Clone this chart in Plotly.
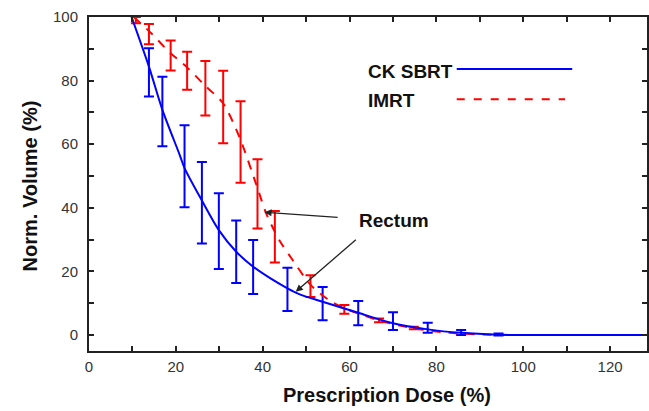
import plotly.graph_objects as go

# CK SBRT mean DVH curve
ck_dose = [9.8, 13.8, 16.9, 20.9, 22.0, 26.0, 29.9, 33.9, 37.8, 41.8, 45.7, 48.4, 53.8, 62.0, 70.0, 78.0, 85.7, 94.3, 100, 128.5]
ck_vol = [100, 84.4, 70.8, 56.6, 52.5, 42.3, 33.0, 26.2, 21.5, 17.8, 14.7, 12.9, 10.5, 7.0, 3.7, 1.8, 0.7, 0.1, 0, 0]

# CK SBRT error bars
ck_bar_dose = [13.8, 16.9, 22.0, 26.0, 29.9, 33.9, 37.8, 45.7, 53.8, 62.0, 70.0, 78.0, 85.7, 94.3]
ck_bar_mean = [82.6, 70.3, 53.1, 41.6, 32.7, 26.2, 21.4, 14.4, 9.9, 6.9, 4.4, 2.3, 0.8, 0.2]
ck_bar_err = [7.6, 10.9, 12.9, 12.8, 11.9, 9.8, 8.5, 6.8, 5.2, 3.8, 2.8, 1.6, 0.8, 0.3]

# IMRT mean DVH curve
imrt_dose = [10.3, 14.4, 18.4, 22.4, 26.6, 30.8, 34.6, 38.6, 40.8, 43.8, 46.9, 51.1, 55.3, 58.7, 63.7, 67.0, 75.0, 83.0, 91.0, 100]
imrt_vol = [100, 94.8, 89.1, 84.4, 78.6, 73.0, 62.4, 47.0, 38.3, 29.9, 23.6, 15.7, 11.0, 8.5, 6.0, 4.5, 2.1, 0.7, 0.2, 0]

# IMRT error bars
imrt_bar_dose = [10.8, 13.8, 18.8, 22.6, 26.8, 30.9, 34.9, 38.8, 42.8, 51.0, 58.8, 66.8, 74.8]
imrt_bar_mean = [99.0, 94.6, 87.9, 83.1, 77.6, 71.7, 60.7, 44.4, 30.9, 15.4, 8.1, 4.6, 2.2]
imrt_bar_err = [1.0, 3.2, 4.7, 6.0, 8.6, 11.4, 12.8, 10.9, 8.1, 3.4, 1.4, 0.6, 0.4]

x_ticks = list(range(0, 121, 10))
x_ticktext = [str(v) if v % 20 == 0 else "" for v in x_ticks]
y_ticks = list(range(0, 101, 10))
y_ticktext = [str(v) if v % 20 == 0 else "" for v in y_ticks]

# annotation: label position and arrow (tip, tail) pairs in data units
rectum_label = (70.2, 36.0)
rectum_arrows = [((40.4, 38.6), (57.6, 37.0)), ((47.6, 13.6), (61.8, 30.4))]

BLUE = "#0000ff"
RED = "#ff0000"
FONT = "Liberation Sans"

fig = go.Figure()

fig.add_trace(go.Scatter(
    x=ck_bar_dose, y=ck_bar_mean, mode="markers",
    marker=dict(size=1, color="rgba(0,0,0,0)"),
    error_y=dict(type="data", array=ck_bar_err, color=BLUE, thickness=2, width=5),
    showlegend=False, hoverinfo="skip"))
fig.add_trace(go.Scatter(
    x=imrt_bar_dose, y=imrt_bar_mean, mode="markers",
    marker=dict(size=1, color="rgba(0,0,0,0)"),
    error_y=dict(type="data", array=imrt_bar_err, color=RED, thickness=2, width=5),
    showlegend=False, hoverinfo="skip"))
fig.add_trace(go.Scatter(
    x=imrt_dose, y=imrt_vol, mode="lines", name="IMRT",
    line=dict(color=RED, width=2, dash="9px,8px", shape="spline", smoothing=0.8),
    showlegend=False))
fig.add_trace(go.Scatter(
    x=ck_dose, y=ck_vol, mode="lines", name="CK SBRT",
    line=dict(color=BLUE, width=2, shape="spline", smoothing=0.8),
    showlegend=False))

# legend drawn manually (text on the left, line sample on the right)
fig.add_shape(type="line", xref="paper", yref="paper", x0=0.659, x1=0.866, y0=0.844, y1=0.844,
              line=dict(color=BLUE, width=2))
fig.add_shape(type="line", xref="paper", yref="paper", x0=0.659, x1=0.853, y0=0.754, y1=0.754,
              line=dict(color=RED, width=2, dash="8px,9px"))
fig.add_annotation(text="CK SBRT", xref="paper", yref="paper", x=0.496, y=0.838,
                   xanchor="left", yanchor="middle", showarrow=False,
                   font=dict(family=FONT, size=19, color="#111", weight="bold"))
fig.add_annotation(text="IMRT", xref="paper", yref="paper", x=0.496, y=0.751,
                   xanchor="left", yanchor="middle", showarrow=False,
                   font=dict(family=FONT, size=19, color="#111", weight="bold"))

fig.add_annotation(text="Rectum", x=rectum_label[0], y=rectum_label[1], xref="x", yref="y",
                   showarrow=False, xanchor="center", yanchor="middle",
                   font=dict(family=FONT, size=19, color="#111", weight="bold"))
for (tip, tail) in rectum_arrows:
    fig.add_annotation(text="", x=tip[0], y=tip[1], xref="x", yref="y",
                       ax=tail[0], ay=tail[1], axref="x", ayref="y",
                       showarrow=True, arrowhead=2, arrowsize=1.1, arrowwidth=1.3,
                       arrowcolor="#222", standoff=0)

# axis titles
fig.add_annotation(text="Prescription Dose (%)", xref="paper", yref="paper", x=0.534, y=-0.131,
                   xanchor="center", yanchor="middle", showarrow=False,
                   font=dict(family=FONT, size=20, color="#111", weight="bold"))
fig.add_annotation(text="Norm. Volume (%)", xref="paper", yref="paper", x=-0.105, y=0.494,
                   xanchor="center", yanchor="middle", showarrow=False, textangle=-90,
                   font=dict(family=FONT, size=20, color="#111", weight="bold"))

axis_common = dict(showgrid=False, zeroline=False, showline=True, linecolor="#222", linewidth=2,
                   mirror="ticks", ticks="inside", ticklen=5, tickwidth=1.5, tickcolor="#222",
                   tickfont=dict(family=FONT, size=15, color="#333"))

fig.update_xaxes(range=[0, 128.5], tickmode="array", tickvals=x_ticks, ticktext=x_ticktext,
                 ticklabelstandoff=1, **axis_common)
fig.update_yaxes(range=[-5, 100], tickmode="array", tickvals=y_ticks, ticktext=y_ticktext,
                 ticklabelstandoff=6, **axis_common)

fig.update_layout(width=649, height=411, margin=dict(l=89, r=0, t=17, b=60),
                  plot_bgcolor="white", paper_bgcolor="white", showlegend=False)

fig.write_html("out.html")
